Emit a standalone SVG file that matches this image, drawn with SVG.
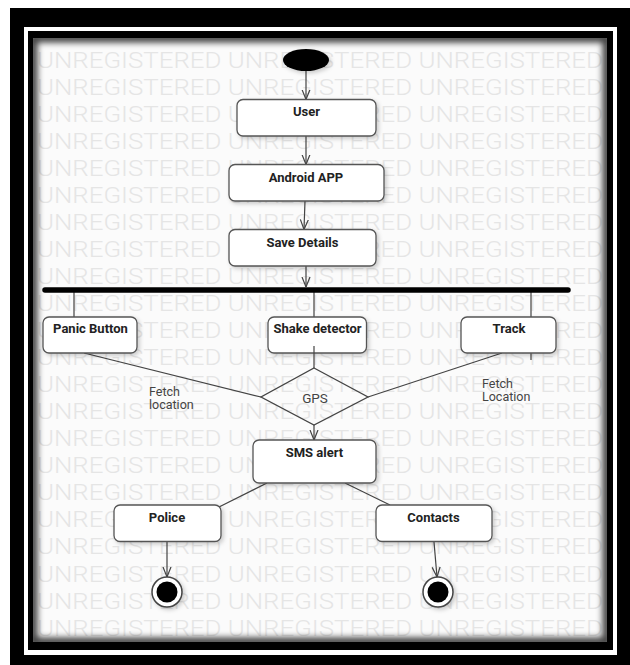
<svg xmlns="http://www.w3.org/2000/svg" width="630" height="665" viewBox="0 0 630 665">
<style>
.wm{font-family:Roboto,"Liberation Sans",Arial,sans-serif;font-weight:300;font-size:21.5px;fill:#e5e5e5}
.box{fill:#fff;stroke:#555;stroke-width:1.3}
.lbl{font-family:Roboto,"Liberation Sans",sans-serif;font-weight:bold;font-size:13px;fill:#222;text-anchor:middle}
.note{font-family:Roboto,"Liberation Sans",sans-serif;font-size:12.5px;fill:#444}
.ln{fill:none;stroke:#444;stroke-width:1.2}
</style>
<defs>
<marker id="arr" viewBox="0 0 10 10" refX="10" refY="5" markerWidth="10" markerHeight="10" markerUnits="userSpaceOnUse" orient="auto">
<path d="M0,1 L10,5 L0,9" fill="none" stroke="#444" stroke-width="1.2"/>
</marker>
<filter id="sh" x="-20%" y="-20%" width="150%" height="160%">
<feDropShadow dx="2" dy="2" stdDeviation="2" flood-color="#000" flood-opacity="0.2"/>
</filter>
<filter id="blur" x="-5%" y="-5%" width="110%" height="110%">
<feGaussianBlur stdDeviation="3"/>
</filter>
<clipPath id="cv"><rect x="33" y="38" width="574" height="604"/></clipPath>
</defs>

<!-- frame -->
<rect x="10" y="8" width="620" height="657" fill="#000"/>
<rect x="24" y="27" width="593" height="628" fill="#fff"/>
<rect x="28" y="31" width="585" height="619" fill="#000"/>
<rect x="33" y="38" width="574" height="604" fill="#fbfbfb"/>

<!-- watermark -->
<g clip-path="url(#cv)">
<g class="wm">
<text x="37" y="67.5" textLength="566" lengthAdjust="spacingAndGlyphs">UNREGISTERED UNREGISTERED UNREGISTERED</text>
<text x="37" y="94.5" textLength="566" lengthAdjust="spacingAndGlyphs">UNREGISTERED UNREGISTERED UNREGISTERED</text>
<text x="37" y="121.6" textLength="566" lengthAdjust="spacingAndGlyphs">UNREGISTERED UNREGISTERED UNREGISTERED</text>
<text x="37" y="148.6" textLength="566" lengthAdjust="spacingAndGlyphs">UNREGISTERED UNREGISTERED UNREGISTERED</text>
<text x="37" y="175.7" textLength="566" lengthAdjust="spacingAndGlyphs">UNREGISTERED UNREGISTERED UNREGISTERED</text>
<text x="37" y="202.7" textLength="566" lengthAdjust="spacingAndGlyphs">UNREGISTERED UNREGISTERED UNREGISTERED</text>
<text x="37" y="229.8" textLength="566" lengthAdjust="spacingAndGlyphs">UNREGISTERED UNREGISTERED UNREGISTERED</text>
<text x="37" y="256.8" textLength="566" lengthAdjust="spacingAndGlyphs">UNREGISTERED UNREGISTERED UNREGISTERED</text>
<text x="37" y="283.9" textLength="566" lengthAdjust="spacingAndGlyphs">UNREGISTERED UNREGISTERED UNREGISTERED</text>
<text x="37" y="310.9" textLength="566" lengthAdjust="spacingAndGlyphs">UNREGISTERED UNREGISTERED UNREGISTERED</text>
<text x="37" y="338" textLength="566" lengthAdjust="spacingAndGlyphs">UNREGISTERED UNREGISTERED UNREGISTERED</text>
<text x="37" y="365" textLength="566" lengthAdjust="spacingAndGlyphs">UNREGISTERED UNREGISTERED UNREGISTERED</text>
<text x="37" y="392.1" textLength="566" lengthAdjust="spacingAndGlyphs">UNREGISTERED UNREGISTERED UNREGISTERED</text>
<text x="37" y="419.2" textLength="566" lengthAdjust="spacingAndGlyphs">UNREGISTERED UNREGISTERED UNREGISTERED</text>
<text x="37" y="446.2" textLength="566" lengthAdjust="spacingAndGlyphs">UNREGISTERED UNREGISTERED UNREGISTERED</text>
<text x="37" y="473.3" textLength="566" lengthAdjust="spacingAndGlyphs">UNREGISTERED UNREGISTERED UNREGISTERED</text>
<text x="37" y="500.3" textLength="566" lengthAdjust="spacingAndGlyphs">UNREGISTERED UNREGISTERED UNREGISTERED</text>
<text x="37" y="527.4" textLength="566" lengthAdjust="spacingAndGlyphs">UNREGISTERED UNREGISTERED UNREGISTERED</text>
<text x="37" y="554.4" textLength="566" lengthAdjust="spacingAndGlyphs">UNREGISTERED UNREGISTERED UNREGISTERED</text>
<text x="37" y="581.5" textLength="566" lengthAdjust="spacingAndGlyphs">UNREGISTERED UNREGISTERED UNREGISTERED</text>
<text x="37" y="608.5" textLength="566" lengthAdjust="spacingAndGlyphs">UNREGISTERED UNREGISTERED UNREGISTERED</text>
<text x="37" y="635.6" textLength="566" lengthAdjust="spacingAndGlyphs">UNREGISTERED UNREGISTERED UNREGISTERED</text>
</g>
<rect x="33" y="38" width="574" height="604" fill="none" stroke="#000" stroke-width="9" opacity="0.75" filter="url(#blur)"/>
</g>

<!-- connectors -->
<g id="connectors">
<line class="ln" x1="306" y1="71" x2="306" y2="99.5" marker-end="url(#arr)"/>
<line class="ln" x1="306" y1="136" x2="306" y2="164.5" marker-end="url(#arr)"/>
<line class="ln" x1="305" y1="201" x2="304" y2="229.5" marker-end="url(#arr)"/>
<line class="ln" x1="306" y1="266" x2="306" y2="287" marker-end="url(#arr)"/>
<line class="ln" x1="74" y1="292" x2="74" y2="317"/>
<line class="ln" x1="314" y1="292" x2="314" y2="317"/>
<line class="ln" x1="531" y1="292" x2="531" y2="317"/>
<line class="ln" x1="531" y1="353" x2="531" y2="360"/>
<line class="ln" x1="84" y1="353" x2="261" y2="397"/>
<line class="ln" x1="502" y1="353" x2="368" y2="397"/>
<line class="ln" x1="314" y1="425" x2="314" y2="440" marker-end="url(#arr)"/>
<line class="ln" x1="267" y1="483" x2="219" y2="507"/>
<line class="ln" x1="345" y1="483" x2="390" y2="505"/>
<line class="ln" x1="167" y1="542" x2="167" y2="577" marker-end="url(#arr)"/>
<line class="ln" x1="434" y1="542" x2="437" y2="577" marker-end="url(#arr)"/>
<text class="note" x="149" y="396">Fetch</text>
<text class="note" x="149" y="408.5">location</text>
<text class="note" x="482" y="388">Fetch</text>
<text class="note" x="482" y="401">Location</text>
</g>

<!-- nodes -->
<g id="start"><ellipse cx="306" cy="60" rx="23" ry="11" fill="#000" filter="url(#sh)"/></g>
<g id="user"><rect class="box" x="237" y="99.5" width="139" height="36.5" rx="6" filter="url(#sh)"/><text class="lbl" x="306.5" y="116">User</text></g>
<g id="android"><rect class="box" x="229" y="164.5" width="155" height="36.5" rx="6" filter="url(#sh)"/><text class="lbl" x="306" y="182">Android APP</text></g>
<g id="save"><rect class="box" x="229" y="229.5" width="147" height="36.5" rx="6" filter="url(#sh)"/><text class="lbl" x="302.5" y="247">Save Details</text></g>
<g id="fork"><line x1="45" y1="290" x2="568" y2="290" stroke="#000" stroke-width="5.5" stroke-linecap="round"/></g>
<g id="panic"><rect class="box" x="43" y="317" width="94" height="36" rx="6" filter="url(#sh)"/><text class="lbl" x="90.5" y="333">Panic Button</text></g>
<g id="shake"><rect class="box" x="268" y="317" width="98.5" height="36" rx="6" filter="url(#sh)"/><line class="ln" x1="314" y1="346" x2="314" y2="368"/><text class="lbl" x="317.5" y="333">Shake detector</text></g>
<g id="track"><rect class="box" x="461" y="317" width="95" height="36" rx="6" filter="url(#sh)"/><text class="lbl" x="509" y="333">Track</text></g>
<g id="gps"><path d="M314,368 L368,397 L314,425 L261,397 Z" fill="#fff" fill-opacity="0" stroke="#444" stroke-width="1.3"/><text x="315" y="403" font-family="Roboto,'Liberation Sans',sans-serif" font-size="13.5" fill="#444" text-anchor="middle">GPS</text></g>
<g id="sms"><rect class="box" x="253" y="440" width="123" height="43" rx="6" filter="url(#sh)"/><text class="lbl" x="314.5" y="457">SMS alert</text></g>
<g id="police"><rect class="box" x="114" y="505" width="107" height="36.5" rx="6" filter="url(#sh)"/><text class="lbl" x="167" y="522">Police</text></g>
<g id="contacts"><rect class="box" x="376" y="505" width="116" height="36.5" rx="6" filter="url(#sh)"/><text class="lbl" x="433.5" y="522">Contacts</text></g>
<g id="end1"><circle cx="167" cy="592" r="15" fill="#fff" stroke="#444" stroke-width="1.5" filter="url(#sh)"/><circle cx="167" cy="592" r="10.5" fill="#000"/></g>
<g id="end2"><circle cx="438" cy="592" r="15" fill="#fff" stroke="#444" stroke-width="1.5" filter="url(#sh)"/><circle cx="438" cy="592" r="10.5" fill="#000"/></g>
</svg>
